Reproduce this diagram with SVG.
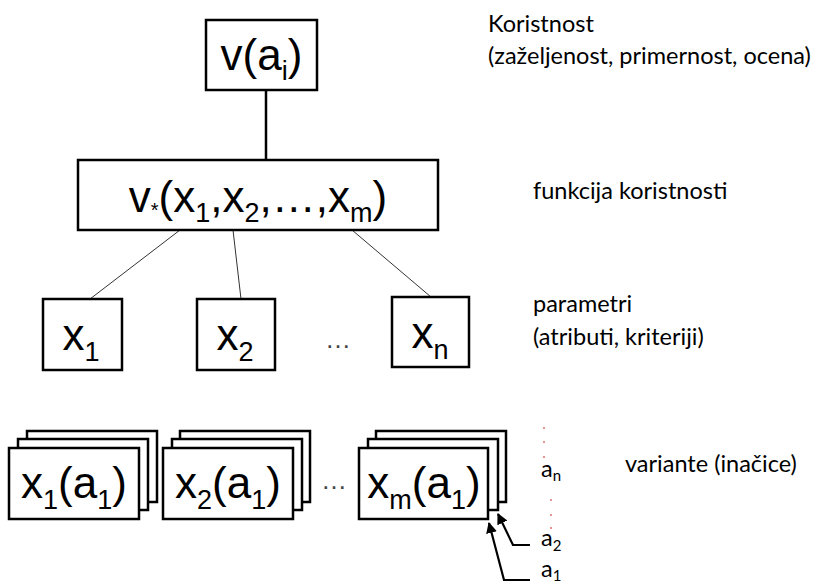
<svg xmlns="http://www.w3.org/2000/svg" width="820" height="588" viewBox="0 0 820 588">
<style>
.box{fill:#fff;stroke:#000;stroke-width:2.5}
.big{font-family:"Liberation Sans",Arial,sans-serif;font-size:44px;fill:#000}
.sub{font-size:27px}
.lbl{font-family:Lato,"Open Sans",sans-serif;font-size:23.5px;fill:#000}
.thin{stroke:#333;stroke-width:1;fill:none}
.thick{stroke:#000;stroke-width:2.5;fill:none}
.arr{stroke:#000;stroke-width:2.2;fill:none}
.dot{fill:#e07070}
.ell{font-family:"Liberation Sans",Arial,sans-serif;font-size:26px;fill:#444}
</style>
<defs>
<marker id="ah" viewBox="0 0 10 10" refX="9" refY="5" markerWidth="5" markerHeight="5" orient="auto">
<path d="M0,0 L10,5 L0,10 z" fill="#000"/>
</marker>
</defs>
<g id="connectors">
<line class="thick" x1="266" y1="90" x2="266" y2="160"/>
<line class="thin" x1="180" y1="230" x2="90" y2="299"/>
<line class="thin" x1="233" y1="230" x2="241" y2="299"/>
<line class="thin" x1="352" y1="230" x2="431" y2="297"/>
<polyline class="arr" points="530,580 504,580 489,523" marker-end="url(#ah)"/>
<polyline class="arr" points="530,545 513,545 498,514" marker-end="url(#ah)"/>
</g>
<g id="v_ai">
<rect class="box" x="206" y="20" width="111" height="70"/>
<text class="big" x="261.5" y="70" text-anchor="middle">v(a<tspan class="sub" dy="10">i</tspan><tspan dy="-10">)</tspan></text>
</g>
<g id="v_star">
<rect class="box" x="78" y="160" width="360" height="70"/>
<text class="big" x="258" y="212" text-anchor="middle">v<tspan font-size="20px" dy="5">*</tspan><tspan dy="-5">(x</tspan><tspan class="sub" dy="10">1</tspan><tspan dy="-10">,x</tspan><tspan class="sub" dy="10">2</tspan><tspan dy="-10">,…,x</tspan><tspan class="sub" dy="10">m</tspan><tspan dy="-10">)</tspan></text>
</g>
<g id="x1">
<rect class="box" x="43" y="299" width="79" height="71"/>
<text class="big" x="81" y="350" text-anchor="middle">x<tspan class="sub" dy="11">1</tspan></text>
</g>
<g id="x2">
<rect class="box" x="197" y="299" width="78" height="71"/>
<text class="big" x="235" y="350" text-anchor="middle">x<tspan class="sub" dy="11">2</tspan></text>
</g>
<g id="dots1">
<text class="ell" x="338" y="348" text-anchor="middle">…</text>
</g>
<g id="xn">
<rect class="box" x="392" y="297" width="77" height="70"/>
<text class="big" x="430" y="348" text-anchor="middle">x<tspan class="sub" dy="11">n</tspan></text>
</g>
<g id="stack1">
<rect class="box" x="27" y="431" width="130" height="71"/>
<rect class="box" x="18" y="439" width="130" height="71"/>
<rect class="box" x="9" y="448" width="130" height="71"/>
<text class="big" x="74" y="498" text-anchor="middle">x<tspan class="sub" dy="11">1</tspan><tspan dy="-11">(a</tspan><tspan class="sub" dy="11">1</tspan><tspan dy="-11">)</tspan></text>
</g>
<g id="stack2">
<rect class="box" x="180" y="431" width="130" height="71"/>
<rect class="box" x="172" y="439" width="130" height="71"/>
<rect class="box" x="163" y="448" width="130" height="71"/>
<text class="big" x="228" y="498" text-anchor="middle">x<tspan class="sub" dy="11">2</tspan><tspan dy="-11">(a</tspan><tspan class="sub" dy="11">1</tspan><tspan dy="-11">)</tspan></text>
</g>
<g id="dots2">
<text class="ell" x="334" y="489" text-anchor="middle">…</text>
</g>
<g id="stack3">
<rect class="box" x="376" y="431" width="130" height="71"/>
<rect class="box" x="368" y="439" width="130" height="71"/>
<rect class="box" x="359" y="448" width="129" height="71"/>
<text class="big" x="424" y="498" text-anchor="middle">x<tspan class="sub" dy="11">m</tspan><tspan dy="-11">(a</tspan><tspan class="sub" dy="11">1</tspan><tspan dy="-11">)</tspan></text>
</g>
<g id="variant_labels">
<circle class="dot" cx="544" cy="428" r="1"/>
<circle class="dot" cx="544" cy="442" r="1"/>
<circle class="dot" cx="544" cy="457" r="1"/>
<circle class="dot" cx="551" cy="500" r="1"/>
<circle class="dot" cx="551" cy="515" r="1"/>
<circle class="dot" cx="551" cy="528" r="1"/>
<text class="lbl" x="541" y="477">a<tspan font-size="15px" dy="4">n</tspan></text>
<text class="lbl" x="541" y="546">a<tspan font-size="15px" dy="5">2</tspan></text>
<text class="lbl" x="541" y="577">a<tspan font-size="15px" dy="4">1</tspan></text>
</g>
<g id="descriptions">
<text class="lbl" x="488" y="32">Koristnost</text>
<text class="lbl" x="488" y="64">(zaželjenost, primernost, ocena)</text>
<text class="lbl" x="533" y="199">funkcija koristnosti</text>
<text class="lbl" x="533" y="312">parametri</text>
<text class="lbl" x="533" y="345">(atributi, kriteriji)</text>
<text class="lbl" x="625" y="472">variante (inačice)</text>
</g>
</svg>
